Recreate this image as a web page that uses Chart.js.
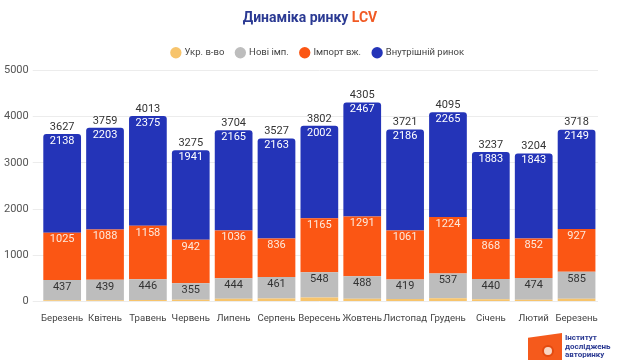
<!DOCTYPE html>
<html>
<head>
<meta charset="utf-8">
<script src="https://cdn.jsdelivr.net/npm/chart.js@4"></script>
<style>
    body { margin: 0; background: #fff; font-family: Roboto, "Noto Sans", sans-serif; }
    #wrap { position: relative; width: 620px; height: 362px; }
    #title { position: absolute; top: 9px; left: 0; width: 620px; text-align: center;
             font-size: 14px; font-weight: bold; color: #2b3a93; }
    #title span { color: #f15a24; }
    #logo { position: absolute; left: 528px; top: 333px; width: 90px; height: 28px; }
    #logo .flag { position: absolute; left: 0; top: 0; width: 34px; height: 27px; background: #f55a1c;
                  clip-path: polygon(0 18%, 100% 0, 100% 100%, 0 100%); }
    #logo .dot { position: absolute; left: 14px; top: 12px; width: 12px; height: 12px; border-radius: 50%;
                 background: #f8d6c4; border: 2px solid #e34a10; box-sizing: border-box; }
    #logo .txt { position: absolute; left: 37px; top: 1px; font-size: 8px; line-height: 8.5px;
                 font-weight: bold; color: #2b3a93; }
</style>
</head>
<body>
<div id="wrap">
    <canvas id="chart" width="620" height="362"></canvas>
    <div id="title">Динаміка ринку <span>LCV</span></div>
    <div id="logo">
        <div class="flag"></div>
        <div class="dot"></div>
        <div class="txt">Інститут<br>досліджень<br>авторинку</div>
    </div>
</div>
<script>
// 월별 라벨
const months = ['Березень', 'Квітень', 'Травень', 'Червень', 'Липень', 'Серпень', 'Вересень',
                'Жовтень', 'Листопад', 'Грудень', 'Січень', 'Лютий', 'Березень'];
const ukrProd = [27, 29, 34, 37, 59, 67, 87, 59, 55, 69, 46, 35, 57];
const newImport = [437, 439, 446, 355, 444, 461, 548, 488, 419, 537, 440, 474, 585];
const usedImport = [1025, 1088, 1158, 942, 1036, 836, 1165, 1291, 1061, 1224, 868, 852, 927];
const domestic = [2138, 2203, 2375, 1941, 2165, 2163, 2002, 2467, 2186, 2265, 1883, 1843, 2149];
const totals = [3627, 3759, 4013, 3275, 3704, 3527, 3802, 4305, 3721, 4095, 3237, 3204, 3718];
const yTicks = [0, 1000, 2000, 3000, 4000, 5000];

// 막대 위 숫자 표시
const valueLabels = {
    id: 'valueLabels',
    afterDatasetsDraw(chart) {
        const ctx = chart.ctx;
        ctx.save();
        ctx.font = '11px Roboto, sans-serif';
        ctx.textAlign = 'center';
        ctx.textBaseline = 'middle';
        const colors = { 1: '#333333', 2: '#fde9dc', 3: '#ffffff' };
        [1, 2, 3].forEach(i => {
            const meta = chart.getDatasetMeta(i);
            meta.data.forEach((bar, j) => {
                ctx.fillStyle = colors[i];
                ctx.fillText(chart.data.datasets[i].data[j], bar.x, bar.y + 7);
            });
        });
        const top = chart.getDatasetMeta(3);
        top.data.forEach((bar, j) => {
            ctx.fillStyle = '#333333';
            ctx.fillText(totals[j], bar.x, bar.y - 7);
        });
        ctx.restore();
    }
};

// 범례 아래 여백 추가 + 오른쪽으로 약간 이동
const legendGap = {
    id: 'legendGap',
    beforeInit(chart) {
        const fit = chart.legend.fit;
        chart.legend.fit = function () {
            fit.call(this);
            this.height += 3;
        };
    },
    afterLayout(chart) {
        chart.legend.left += 19;
        chart.legend.right += 19;
    }
};

new Chart(document.getElementById('chart'), {
    type: 'bar',
    data: {
        labels: months,
        datasets: [
            { label: 'Укр. в-во', data: ukrProd, backgroundColor: '#f7c46c' },
            { label: 'Нові імп.', data: newImport, backgroundColor: '#bdbdbd' },
            { label: 'Імпорт вж.', data: usedImport, backgroundColor: '#fb5614' },
            { label: 'Внутрішній ринок', data: domestic, backgroundColor: '#2434b8',
              borderRadius: { topLeft: 3, topRight: 3, bottomLeft: 0, bottomRight: 0 }, borderSkipped: false }
        ]
    },
    options: {
        responsive: false,
        animation: false,
        datasets: { bar: { barPercentage: 1, categoryPercentage: 0.88 } },
        layout: { padding: { top: 36, left: 0, right: 22, bottom: 35 } },
        scales: {
            x: {
                stacked: true,
                grid: { display: false },
                border: { display: false },
                ticks: { color: '#444', font: { size: 9.6, family: 'Roboto' }, maxRotation: 0, autoSkip: false }
            },
            y: {
                stacked: true,
                min: 0,
                max: 5000,
                afterBuildTicks: axis => { axis.ticks = yTicks.map(v => ({ value: v })); },
                grid: { color: '#ececec' },
                border: { display: false },
                ticks: { color: '#555', font: { size: 11, family: 'Roboto' }, padding: 4,
                         callback: v => String(v) }
            }
        },
        plugins: {
            legend: {
                labels: {
                    usePointStyle: true,
                    pointStyle: 'circle',
                    boxWidth: 8,
                    boxHeight: 8,
                    padding: 12,
                    color: '#444',
                    font: { size: 9.5, family: 'Roboto' }
                }
            },
            tooltip: { enabled: false }
        }
    },
    plugins: [valueLabels, legendGap]
});
</script>
</body>
</html>
